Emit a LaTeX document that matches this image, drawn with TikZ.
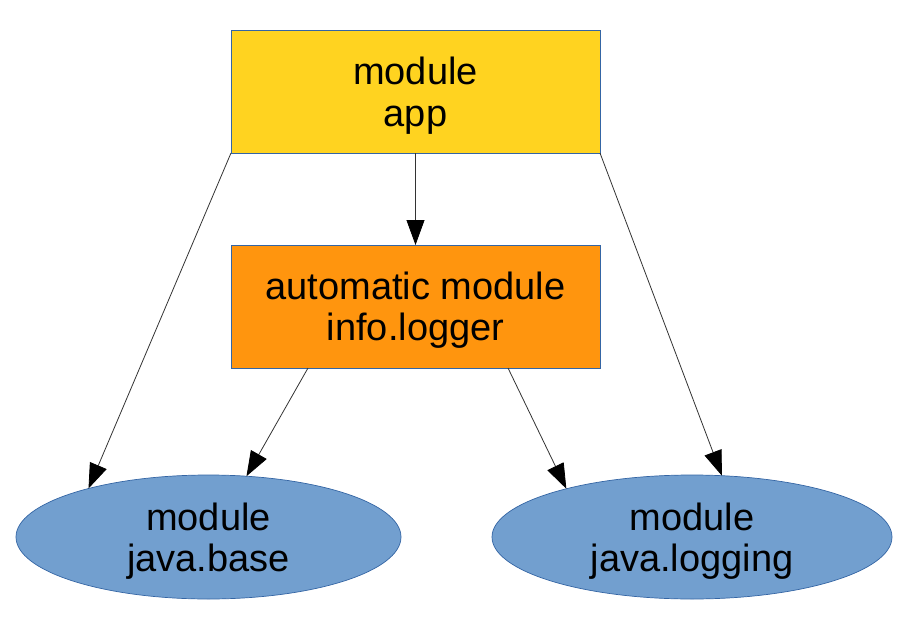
\documentclass[tikz,border=0pt]{standalone}
\usepackage{fontspec}
\setmainfont{Liberation Sans}
\usetikzlibrary{arrows.meta,shapes.geometric}
\definecolor{boxyellow}{HTML}{FFD320}
\definecolor{boxorange}{HTML}{FF950E}
\definecolor{ellblue}{HTML}{729FCF}
\definecolor{edgeblue}{HTML}{3465A4}
\tikzset{
  modbox/.style={draw=edgeblue, line width=0.7pt, rectangle, minimum width=369pt, minimum height=123pt,
    inner sep=0pt, outer sep=0pt},
  modell/.style={draw=edgeblue, line width=0.7pt, ellipse, fill=ellblue, minimum height=124pt,
    inner sep=0pt, outer sep=0pt},
  modtext/.style={inner sep=0pt, align=center, font=\fontsize{38}{41.5}\selectfont},
  dep/.style={draw=black!80, line width=0.8pt, -{Triangle[length=25pt,width=18pt,color=black,fill=black]}}
}
\begin{document}
\begin{tikzpicture}[x=1pt,y=-1pt]
\useasboundingbox (0,0) rectangle (910,626);
\node[modbox, fill=boxyellow] (app) at (415.5,91.5) {};
\node[modbox, fill=boxorange] (logger) at (415.5,306.5) {};
\node[modell, minimum width=385pt] (jb) at (208.5,537) {};
\node[modell, minimum width=400pt] (jl) at (692,537) {};
\node[modtext] (apptext) at ([yshift=-4pt]app.center) {module\\app};
\node[modtext] (loggertext) at ([yshift=-3.5pt]logger.center) {automatic module\\info.logger};
\node[modtext] (jbtext) at ([yshift=-4pt]jb.center) {module\\java.base};
\node[modtext] (jltext) at ([yshift=-4pt]jl.center) {module\\java.logging};
\draw[dep] (app.south) -- (logger.north);
\draw[dep] (app.south west) -- (jb.158);
\draw[dep] (app.south east) -- (jl.64);
\draw[dep] ([xshift=-107.5pt]logger.south) -- (jb.58);
\draw[dep] ([xshift=92.5pt]logger.south) -- (jl.159);
\end{tikzpicture}
\end{document}
